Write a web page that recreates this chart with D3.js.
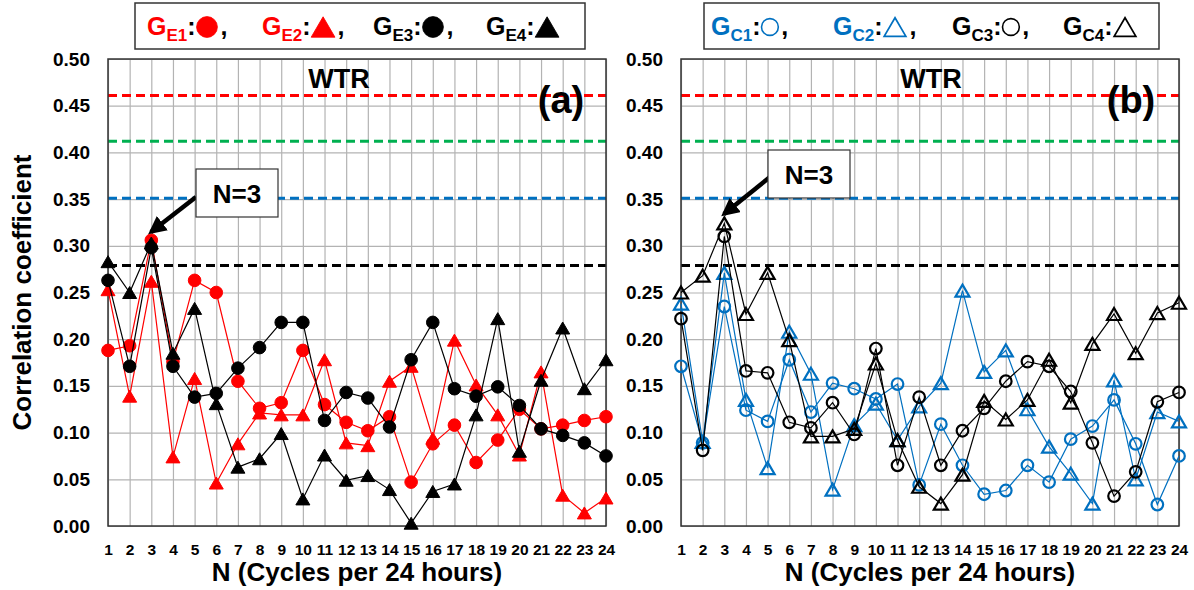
<!DOCTYPE html>
<html>
<head>
<meta charset="utf-8">
<script src="https://cdn.jsdelivr.net/npm/d3@7"></script>
<style>
	body { margin: 0; background: #fff; }
	svg text { font-family: "Liberation Sans", Arial, sans-serif; font-weight: bold; }
</style>
</head>
<body>
<svg id="chart" width="1194" height="590"></svg>
<script>
// categories and ticks
const cycles = [1, 2, 3, 4, 5, 6, 7, 8, 9, 10, 11, 12, 13, 14, 15, 16, 17, 18, 19, 20, 21, 22, 23, 24];
const yTicks = [0, 0.05, 0.1, 0.15, 0.2, 0.25, 0.3, 0.35, 0.4, 0.45, 0.5];

// significance levels (dashed lines)
const refLevels = [0.461, 0.412, 0.351, 0.279];
const refColors = ["#ff0000", "#00b050", "#0070c0", "#000000"];

// panel (a)
const gE1 = [0.188, 0.193, 0.306, 0.176, 0.263, 0.250, 0.155, 0.126, 0.132, 0.188, 0.130, 0.111, 0.102, 0.117, 0.047, 0.088, 0.108, 0.068, 0.092, 0.125, 0.104, 0.108, 0.113, 0.117];
const gE2 = [0.253, 0.139, 0.262, 0.074, 0.158, 0.046, 0.088, 0.121, 0.119, 0.119, 0.178, 0.089, 0.086, 0.155, 0.171, 0.094, 0.199, 0.151, 0.119, 0.076, 0.165, 0.033, 0.014, 0.030];
const gE3 = [0.263, 0.171, 0.298, 0.171, 0.138, 0.142, 0.169, 0.191, 0.218, 0.218, 0.113, 0.143, 0.137, 0.106, 0.178, 0.218, 0.147, 0.139, 0.149, 0.129, 0.104, 0.097, 0.089, 0.075];
const gE4 = [0.283, 0.250, 0.303, 0.185, 0.233, 0.131, 0.063, 0.072, 0.099, 0.029, 0.076, 0.049, 0.054, 0.039, 0.003, 0.037, 0.045, 0.119, 0.222, 0.080, 0.156, 0.212, 0.147, 0.178];

// panel (b)
const gC1 = [0.171, 0.089, 0.235, 0.124, 0.112, 0.178, 0.122, 0.153, 0.147, 0.136, 0.152, 0.044, 0.109, 0.065, 0.034, 0.038, 0.065, 0.047, 0.093, 0.107, 0.135, 0.088, 0.023, 0.075];
const gC2 = [0.238, 0.090, 0.271, 0.135, 0.062, 0.208, 0.163, 0.039, 0.108, 0.131, 0.092, 0.128, 0.153, 0.252, 0.165, 0.188, 0.125, 0.085, 0.056, 0.024, 0.156, 0.050, 0.122, 0.112];
const gC3 = [0.222, 0.081, 0.310, 0.166, 0.164, 0.111, 0.105, 0.132, 0.098, 0.190, 0.065, 0.138, 0.065, 0.102, 0.126, 0.155, 0.176, 0.171, 0.144, 0.089, 0.032, 0.058, 0.133, 0.143];
const gC4 = [0.250, 0.268, 0.324, 0.227, 0.271, 0.199, 0.096, 0.096, 0.104, 0.174, 0.092, 0.042, 0.024, 0.055, 0.134, 0.114, 0.135, 0.178, 0.132, 0.195, 0.227, 0.185, 0.228, 0.239];

const RED = "#ff0000", BLUE = "#0070c0", BLACK = "#000000";

const panels = [
	{
		left: 108, right: 606, tag: "(a)", wtrX: 339, tagX: 561,
		legend: { x: 135, w: 450, prefix: "E", offsets: [12, 127, 238, 351] },
		note: { x: 196, y: 169, from: [196, 197], to: [151, 232] },
		series: [
			{ name: "1", values: gE1, color: RED, shape: "circle", filled: true },
			{ name: "2", values: gE2, color: RED, shape: "triangle", filled: true },
			{ name: "3", values: gE3, color: BLACK, shape: "circle", filled: true },
			{ name: "4", values: gE4, color: BLACK, shape: "triangle", filled: true },
		],
	},
	{
		left: 681, right: 1179, tag: "(b)", wtrX: 931, tagX: 1131,
		legend: { x: 704, w: 455, prefix: "C", offsets: [7, 129, 248, 359] },
		note: { x: 768, y: 150, from: [770, 177], to: [724, 214] },
		series: [
			{ name: "1", values: gC1, color: BLUE, shape: "circle", filled: false },
			{ name: "2", values: gC2, color: BLUE, shape: "triangle", filled: false },
			{ name: "3", values: gC3, color: BLACK, shape: "circle", filled: false },
			{ name: "4", values: gC4, color: BLACK, shape: "triangle", filled: false },
		],
	},
];

const svg = d3.select("#chart");
const plotTop = 59, plotBottom = 526;

svg.append("defs").append("marker")
	.attr("id", "arrowhead")
	.attr("viewBox", "0 0 10 10")
	.attr("refX", 8).attr("refY", 5)
	.attr("markerWidth", 4).attr("markerHeight", 4)
	.attr("markerUnits", "strokeWidth")
	.attr("orient", "auto")
	.append("path").attr("d", "M0,0 L10,5 L0,10 z").attr("fill", "#000");

function markerPath(shape, filled) {
	if (shape === "circle") {
		const r = filled ? 6.3 : 5.8;
		return `M${-r},0a${r},${r} 0 1,0 ${2 * r},0a${r},${r} 0 1,0 ${-2 * r},0z`;
	}
	const w = 14, h = 12;
	return `M0,${-h / 2}L${w / 2},${h / 2}L${-w / 2},${h / 2}z`;
}

function drawPanel(p) {
	const x = d3.scaleLinear().domain([1, 24]).range([p.left, p.right]);
	const y = d3.scaleLinear().domain([0, 0.5]).range([plotBottom, plotTop]);
	const g = svg.append("g");
	const w = p.right - p.left, h = plotBottom - plotTop;

	// grid
	g.append("g")
		.attr("transform", `translate(0,${plotBottom})`)
		.call(d3.axisBottom(x).tickValues(cycles).tickSize(-h).tickFormat(""))
		.call((s) => {
			s.select(".domain").remove();
			s.selectAll("line").attr("stroke", "#b3b3b3").attr("stroke-width", 1.2);
		});
	g.append("g")
		.attr("transform", `translate(${p.left},0)`)
		.call(d3.axisLeft(y).tickValues(yTicks).tickSize(-w).tickFormat(""))
		.call((s) => {
			s.select(".domain").remove();
			s.selectAll("line").attr("stroke", "#b3b3b3").attr("stroke-width", 1.2);
		});

	// dashed levels
	g.selectAll(".ref")
		.data(refLevels)
		.enter()
		.append("line")
		.attr("x1", p.left)
		.attr("x2", p.right)
		.attr("y1", (d) => y(d))
		.attr("y2", (d) => y(d))
		.attr("stroke", (d, i) => refColors[i])
		.attr("stroke-width", 3)
		.attr("stroke-dasharray", "9,5");

	// frame
	g.append("rect")
		.attr("x", p.left).attr("y", plotTop)
		.attr("width", w).attr("height", h)
		.attr("fill", "none").attr("stroke", "#333").attr("stroke-width", 1.5);

	// tick labels
	g.append("g")
		.attr("transform", `translate(${p.left},0)`)
		.call(d3.axisLeft(y).tickValues(yTicks).tickFormat(d3.format(".2f")).tickSize(0).tickPadding(18))
		.call((s) => {
			s.select(".domain").remove();
			s.attr("font-size", 19);
			s.selectAll("text").attr("fill", "#000");
		});
	g.append("g")
		.attr("transform", `translate(0,${plotBottom})`)
		.call(d3.axisBottom(x).tickValues(cycles).tickSize(0).tickPadding(18))
		.call((s) => {
			s.select(".domain").remove();
			s.attr("font-size", 15.5);
			s.selectAll("text").attr("fill", "#000");
		});

	g.append("text")
		.attr("x", (p.left + p.right) / 2)
		.attr("y", 581)
		.attr("text-anchor", "middle")
		.attr("font-size", 26)
		.text("N (Cycles per 24 hours)");

	g.append("text")
		.attr("x", p.wtrX)
		.attr("y", 88)
		.attr("text-anchor", "middle")
		.attr("font-size", 27)
		.text("WTR");

	g.append("text")
		.attr("x", p.tagX)
		.attr("y", 113)
		.attr("text-anchor", "middle")
		.attr("font-size", 38)
		.text(p.tag);

	// series
	const line = d3.line().x((d, i) => x(cycles[i])).y((d) => y(d));
	p.series.forEach((s) => {
		const sg = g.append("g");
		sg.append("path")
			.attr("d", line(s.values))
			.attr("fill", "none")
			.attr("stroke", s.color)
			.attr("stroke-width", 1.2);
		sg.selectAll("path.pt")
			.data(s.values)
			.enter()
			.append("path")
			.attr("class", "pt")
			.attr("transform", (d, i) => `translate(${x(cycles[i])},${y(d)})`)
			.attr("d", markerPath(s.shape, s.filled))
			.attr("fill", s.filled ? s.color : "none")
			.attr("stroke", s.color)
			.attr("stroke-width", s.filled ? 1 : 2.2);
	});

	// N=3 annotation
	g.append("line")
		.attr("x1", p.note.from[0]).attr("y1", p.note.from[1])
		.attr("x2", p.note.to[0]).attr("y2", p.note.to[1])
		.attr("stroke", "#000").attr("stroke-width", 4.5)
		.attr("marker-end", "url(#arrowhead)");
	g.append("rect")
		.attr("x", p.note.x).attr("y", p.note.y)
		.attr("width", 82).attr("height", 48)
		.attr("fill", "#fff").attr("stroke", "#333").attr("stroke-width", 1.2);
	g.append("text")
		.attr("x", p.note.x + 41).attr("y", p.note.y + 34)
		.attr("text-anchor", "middle")
		.attr("font-size", 26)
		.text("N=3");

	// legend
	const lg = g.append("g");
	lg.append("rect")
		.attr("x", p.legend.x).attr("y", 3)
		.attr("width", p.legend.w).attr("height", 46)
		.attr("fill", "#fff").attr("stroke", "#333").attr("stroke-width", 1.5);
	p.series.forEach((s, i) => {
		const ig = lg.append("g").attr("transform", `translate(${p.legend.x + p.legend.offsets[i]},0)`);
		const t = ig.append("text").attr("y", 35).attr("font-size", 25).attr("fill", s.color);
		t.append("tspan").text("G");
		t.append("tspan").attr("font-size", 17).attr("dy", 6).text(p.legend.prefix + s.name);
		t.append("tspan").attr("dy", -6).attr("fill", "#000").text(":");
		const tw = t.node().getComputedTextLength();
		const sz = s.filled ? (s.shape === "circle" ? 1.65 : 1.7) : (s.shape === "circle" ? 1.45 : 1.55);
		const half = s.shape === "circle" ? (s.filled ? 10.4 : 8.4) : 11.5;
		ig.append("path")
			.attr("transform", `translate(${tw + half + 1},${27}) scale(${sz})`)
			.attr("d", markerPath(s.shape, s.filled))
			.attr("fill", s.filled ? s.color : "none")
			.attr("stroke", s.color)
			.attr("stroke-width", s.filled ? 0.5 : 1.1);
		if (i < 3) {
			ig.append("text").attr("x", tw + 2 * half + 4).attr("y", 35).attr("font-size", 25).text(",");
		}
	});
}

panels.forEach(drawPanel);

svg.append("text")
	.attr("transform", `translate(31,${(plotTop + plotBottom) / 2}) rotate(-90)`)
	.attr("text-anchor", "middle")
	.attr("font-size", 26)
	.text("Correlation coefficient");
</script>
</body>
</html>
